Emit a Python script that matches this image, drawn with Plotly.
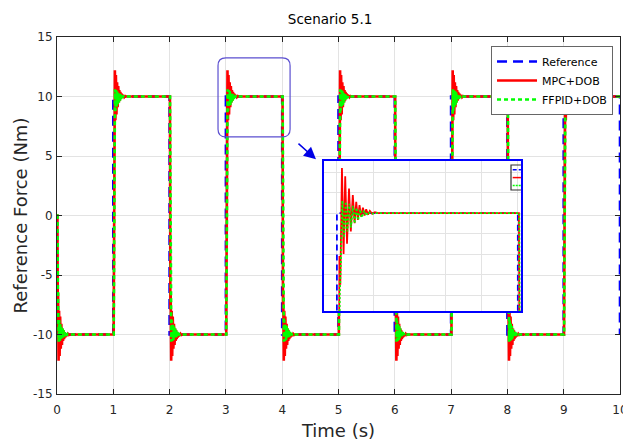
import numpy as np
import plotly.graph_objects as go

# ---------------- data ----------------
# reference square wave: switching instants and level after each switch
ref_switch_times = [0, 1, 2, 3, 4, 5, 6, 7, 8, 9, 10]
ref_levels = [-10, 10, -10, 10, -10, 10, -10, 10, -10, 10, -10]
ref_initial = 0

# response to a rising step (-10 -> +10), time offsets (s) after the switch
mpc_dt = [0.006, 0.014, 0.019, 0.028, 0.037, 0.046, 0.056, 0.067, 0.077, 0.088,
          0.098, 0.107, 0.116, 0.125, 0.134, 0.144, 0.153, 0.162, 0.172, 0.182,
          0.195, 0.210, 0.230]
mpc_val = [-10.0, 7.9, 6.5, 12.2, 8.0, 11.8, 8.5, 11.2, 9.1, 10.88,
           9.5, 10.55, 9.66, 10.39, 9.82, 10.26, 9.88, 10.18, 9.92, 10.10,
           9.96, 10.04, 10.0]

pid_dt = [0.008, 0.016, 0.022, 0.030, 0.040, 0.049, 0.058, 0.068, 0.078, 0.088,
          0.098, 0.108, 0.118, 0.128, 0.138, 0.150, 0.162, 0.175, 0.190, 0.210]
pid_val = [-10.0, 6.0, 7.6, 10.6, 8.8, 10.55, 9.1, 10.45, 9.3, 10.35,
           9.5, 10.25, 9.65, 10.18, 9.78, 10.12, 9.88, 10.06, 9.95, 10.0]

x_ticks = [0, 1, 2, 3, 4, 5, 6, 7, 8, 9, 10]
y_ticks = [-15, -10, -5, 0, 5, 10, 15]
y_tick_labels = ["-15", "-10", "-5", "0", "5", "10", "15"]
inset_x_ticks = [3.0, 3.2, 3.4, 3.6, 3.8, 4.0]
inset_y_ticks = [6, 7, 8, 9, 10, 11, 12]


# ---------------- build series ----------------
def build_reference():
    xs, ys = [ref_switch_times[0]], [ref_initial]
    for t, lvl in zip(ref_switch_times, ref_levels):
        xs += [t, t]
        ys += [ys[-1], lvl]
    xs.append(ref_switch_times[-1])
    ys.append(ys[-1])
    return xs[1:], ys[1:]


def build_response(dts, vals):
    xs, ys = [0.0], [ref_initial]
    prev = ref_initial
    for t, lvl in zip(ref_switch_times[:-1], ref_levels[:-1]):
        s = 1 if lvl > 0 else -1
        for i, (d, v) in enumerate(zip(dts, vals)):
            xs.append(t + d)
            ys.append(prev if i == 0 else s * v)
        prev = lvl
    xs.append(ref_switch_times[-1])
    ys.append(prev)
    return xs, ys


ref_x, ref_y = build_reference()
mpc_x, mpc_y = build_response(mpc_dt, mpc_val)
pid_x, pid_y = build_response(pid_dt, pid_val)

FONT = "DejaVu Sans"
AX = "#262626"
GRID = "#e3e3e3"

# the page body adds an 8px offset, so the figure is sized to fit the window
W, H = 623, 436

fig = go.Figure()

# main axes
fig.add_trace(go.Scatter(x=ref_x, y=ref_y, mode="lines", name="Reference",
                         line=dict(color="#0000ff", width=2.6, dash="10px,6px")))
fig.add_trace(go.Scatter(x=mpc_x, y=mpc_y, mode="lines", name="MPC+DOB",
                         line=dict(color="#ff0000", width=2.6)))
fig.add_trace(go.Scatter(x=pid_x, y=pid_y, mode="lines", name="FFPID+DOB",
                         line=dict(color="#00ff00", width=2.6, dash="4px,3px")))

# inset axes
fig.add_trace(go.Scatter(x=ref_x, y=ref_y, mode="lines", showlegend=False,
                         xaxis="x2", yaxis="y2",
                         line=dict(color="#0000ff", width=1.8, dash="6px,4px")))
fig.add_trace(go.Scatter(x=mpc_x, y=mpc_y, mode="lines", showlegend=False,
                         xaxis="x2", yaxis="y2",
                         line=dict(color="#ff0000", width=1.8)))
fig.add_trace(go.Scatter(x=pid_x, y=pid_y, mode="lines", showlegend=False,
                         xaxis="x2", yaxis="y2",
                         line=dict(color="#00ff00", width=1.8, dash="2px,2px")))

axis_common = dict(showline=True, linecolor=AX, linewidth=1, mirror="ticks",
                   ticks="inside", ticklen=5, tickcolor=AX, showgrid=True,
                   gridcolor=GRID, gridwidth=1, zeroline=False, automargin=False,
                   tickfont=dict(family=FONT, size=12, color=AX))

fig.update_layout(
    width=W, height=H,
    margin=dict(l=49, r=11, t=29, b=50, autoexpand=False),
    paper_bgcolor="white", plot_bgcolor="white",
    font=dict(family=FONT, color=AX),
    title=dict(text="Scenario 5.1", x=0.485, xref="paper", xanchor="center",
               y=1 - 11 / H, yref="container", yanchor="middle", automargin=False,
               font=dict(family=FONT, size=13.5, color="black")),
    xaxis=dict(range=[0, 10], tickvals=x_ticks, domain=[0, 1],
               title=dict(text="Time (s)", font=dict(family=FONT, size=18, color=AX),
                          standoff=7),
               ticklabelstandoff=5, **axis_common),
    yaxis=dict(range=[-15, 15], tickvals=y_ticks, ticktext=y_tick_labels, domain=[0, 1],
               title=dict(text="Reference Force (Nm)",
                          font=dict(family=FONT, size=18, color=AX), standoff=0),
               ticklabelstandoff=1, **axis_common),
    xaxis2=dict(domain=[0.474, 0.824], anchor="y2", range=[2.928, 4.017],
                tickvals=inset_x_ticks, showticklabels=False, ticks="",
                showline=True, mirror=True, linecolor="#0000ff", linewidth=1.6,
                showgrid=True, gridcolor=GRID, zeroline=False, automargin=False),
    yaxis2=dict(domain=[0.2325, 0.6527], anchor="x2", range=[5.22, 12.54],
                tickvals=inset_y_ticks, showticklabels=False, ticks="",
                showline=True, mirror=True, linecolor="#0000ff", linewidth=1.6,
                showgrid=True, gridcolor=GRID, zeroline=False, automargin=False),
    legend=dict(x=0.9876, y=(394 - 46) / 357, xanchor="right", yanchor="top",
                bgcolor="white", bordercolor="#666666", borderwidth=1,
                font=dict(family=FONT, size=11, color="black"),
                tracegroupgap=0, itemwidth=40),
    showlegend=True,
)

# rounded rectangle marking the zoomed region
x0, x1, y0, y1 = 2.86, 4.14, 6.6, 13.24
rx, ry = 0.14, 0.65
path = (f"M {x0+rx},{y1} L {x1-rx},{y1} Q {x1},{y1} {x1},{y1-ry} "
        f"L {x1},{y0+ry} Q {x1},{y0} {x1-rx},{y0} L {x0+rx},{y0} "
        f"Q {x0},{y0} {x0},{y0+ry} L {x0},{y1-ry} Q {x0},{y1} {x0+rx},{y1} Z")
fig.add_shape(type="path", path=path, xref="x", yref="y",
              line=dict(color="#5b4fd0", width=1.2))

# small clipped legend inside the inset
fig.add_shape(type="path", xref="paper", yref="paper",
              path="M 0.824,0.6415 L 0.8064,0.6415 L 0.8064,0.5714 L 0.824,0.5714",
              line=dict(color="#333333", width=1.2))
fig.add_shape(type="line", xref="paper", yref="paper", x0=0.8094, x1=0.824,
              y0=0.6283, y1=0.6283, line=dict(color="#0000ff", width=1.5, dash="4px,2px"))
fig.add_shape(type="line", xref="paper", yref="paper", x0=0.8094, x1=0.824,
              y0=0.6062, y1=0.6062, line=dict(color="#ff0000", width=1.5))
fig.add_shape(type="line", xref="paper", yref="paper", x0=0.8094, x1=0.824,
              y0=0.5837, y1=0.5837, line=dict(color="#00ff00", width=1.5, dash="2px,1px"))

# arrow pointing to the inset
fig.add_annotation(x=0.46, y=0.6574, xref="paper", yref="paper", text="",
                   showarrow=True, ax=-19, ay=-17, arrowhead=2, arrowsize=1.6,
                   arrowwidth=1.5, arrowcolor="#0000e6")

fig.write_html("out.html")
